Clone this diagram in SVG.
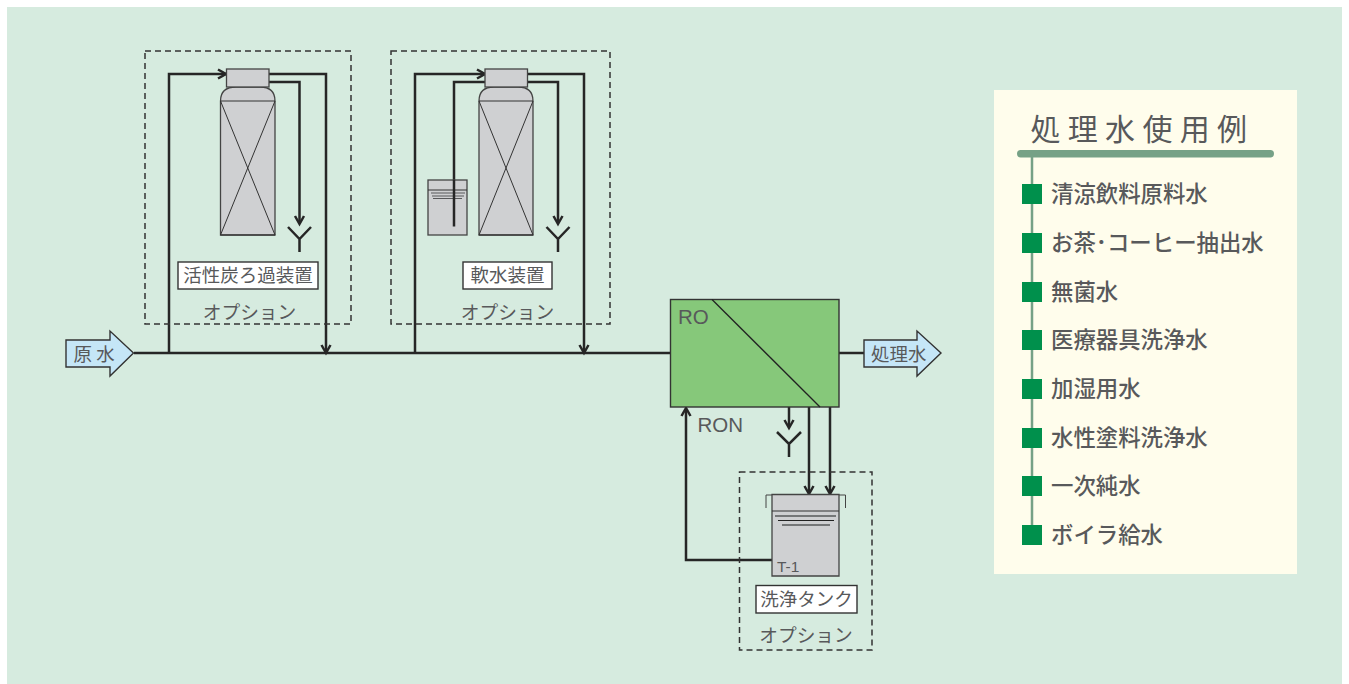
<svg xmlns="http://www.w3.org/2000/svg" width="1349" height="684" viewBox="0 0 1349 684">
<style>
text{font-family:"Noto Sans CJK JP","Noto Sans",sans-serif;fill:#58595b}
.lat{font-family:"Liberation Sans",sans-serif}
.dash{fill:none;stroke:#333;stroke-width:1.5;stroke-dasharray:6 4}
.pipe{fill:none;stroke:#262626;stroke-width:2.5}
.grey{fill:#cfd0d2;stroke:#444;stroke-width:1.3}
.thin{fill:none;stroke:#333;stroke-width:1}
.lbl{fill:#fff;stroke:#333;stroke-width:1.4}
.blue{fill:#c5e6f7;stroke:#333;stroke-width:1.4}
.c{text-anchor:middle}
.sq{fill:#00904c}
.item{font-size:22.4px;fill:#58595b;font-weight:500}
.w{stroke:#58595b;stroke-width:1.2}
.k{stroke:#222;stroke-width:1.3}
.lb{font-size:18.5px}
.op{font-size:18.7px}
</style>
<rect width="1349" height="684" fill="#fff"/>
<rect x="7" y="7" width="1335" height="677" fill="#d6ebdf"/>

<g id="connectors">
<path class="pipe" d="M134 353H670"/>
<path class="pipe" d="M169 353V74H226"/>
<path class="pipe" d="M269 74H326V351"/>
<path class="pipe" d="M269 82H299.5V223"/>
<path class="pipe" d="M415 353V74H485"/>
<path class="pipe" d="M527 74H584V351"/>
<path class="pipe" d="M485 82H454V226.500"/>
<path class="pipe" d="M527 82H558V223"/>
<path class="pipe" d="M839 353H864"/>
<path class="pipe" d="M772 560H686V409"/>
<path class="pipe" d="M789 407V427"/>
<path class="pipe" d="M809 407V492"/>
<path class="pipe" d="M830 407V492"/>
<g class="pipe">
<path d="M218 69.500L226 74L218 78.500"/>
<path d="M477 69.500L485 74L477 78.500"/>
<path d="M321.500 345L326 353L330.500 345"/>
<path d="M579.500 345L584 353L588.500 345"/>
<path d="M295 216L299.500 224L304 216"/>
<path d="M553.500 216L558 224L562.500 216"/>
<path d="M681.500 416L686 408L690.500 416"/>
<path d="M784.500 420L789 428L793.500 420"/>
<path d="M804.500 486L809 494L813.500 486"/>
<path d="M825.500 486L830 494L834.500 486"/>
</g>
</g>

<g id="opt-carbon">
<rect class="dash" x="145" y="51" width="206" height="273"/>
<path class="grey" d="M220.500 235V101Q220.500 87 236 87H260Q275 87 275 101V235Z"/>
<path class="thin" d="M220.500 101H275L220.500 235H275L220.500 101"/>
<rect class="grey" x="226.500" y="69" width="42.500" height="18"/>
<path class="pipe" d="M288 227L299.500 239L311 227M299.500 239V252"/>
<rect class="lbl" x="178" y="262" width="140" height="27"/>
<text class="c lb" x="248" y="282">活性炭ろ過装置</text>
<text class="c op" x="249.500" y="319">オプション</text>
</g>

<g id="opt-softener">
<rect class="dash" x="391" y="51" width="219" height="273"/>
<rect class="grey" x="428" y="180" width="39" height="55"/>
<path class="thin" d="M428 190H467"/>
<path class="w" d="M431 193H465M432 196H464M433 198.500H462"/>
<path class="pipe" d="M454 180V226.500"/>
<path class="grey" d="M479 235V101Q479 87 494 87H518Q533 87 533 101V235Z"/>
<path class="thin" d="M479 101H533L479 235H533L479 101"/>
<rect class="grey" x="485" y="69" width="42.500" height="18"/>
<path class="pipe" d="M546.500 227L558 239L569.500 227M558 239V252"/>
<rect class="lbl" x="463" y="262" width="89" height="27"/>
<text class="c lb" x="507.500" y="282">軟水装置</text>
<text class="c op" x="507.500" y="319">オプション</text>
</g>

<g id="ro">
<rect x="670.500" y="299.500" width="168.500" height="107.500" fill="#86c87a" stroke="#333" stroke-width="1.4"/>
<path class="k" d="M712 299.500L820 407"/>
<text class="lat" x="678" y="324" font-size="20.500">RO</text>
<text class="lat" x="697.500" y="431.500" font-size="20.500">RON</text>
</g>

<g id="drain">
<path class="pipe" d="M777 432L789 444L801 432M789 444V457"/>
</g>

<g id="opt-tank">
<rect class="dash" x="739.500" y="472" width="132.500" height="178"/>
<path class="grey" d="M772 494.500H839V576H772Z"/>
<path class="thin" d="M772 511H839"/>
<path class="thin" d="M766 508V495H772M845.500 508V495H839" style="stroke:#444"/>
<path class="w" d="M775 516H836M782 525H830" style="stroke-width:1.400"/>
<path class="k" d="M778 520.500H834" style="stroke-width:1"/>
<text class="lat" x="777" y="572" font-size="15.500">T-1</text>
<rect class="lbl" x="756" y="585.500" width="101" height="27.500"/>
<text class="c lb" x="806.500" y="606">洗浄タンク</text>
<text class="c op" x="806" y="642">オプション</text>
</g>

<g id="raw-water">
<path class="blue" d="M66 340H110V331L133.500 353L110 376V367H66Z"/>
<text x="73.500" y="360.500" font-size="18.500">原 水</text>
</g>

<g id="treated-water">
<path class="blue" d="M864 340H917V331L941 353L917 376V367H864Z"/>
<text x="871" y="360.500" font-size="18.500">処理水</text>
</g>

<g id="usage-panel">
<rect x="994" y="90" width="303" height="484" fill="#fffdec"/>
<path d="M1032 155V530" stroke="#76a186" stroke-width="2.500"/>
<rect x="1017" y="150" width="257" height="7.500" rx="3.700" fill="#76a186"/>
<text x="1030.500" y="140" font-size="30" letter-spacing="7.300">処理水使用例</text>
<g>
<rect class="sq" x="1022" y="184" width="20" height="20"/>
<rect class="sq" x="1022" y="233" width="20" height="20"/>
<rect class="sq" x="1022" y="282" width="20" height="20"/>
<rect class="sq" x="1022" y="330" width="20" height="20"/>
<rect class="sq" x="1022" y="379" width="20" height="20"/>
<rect class="sq" x="1022" y="428" width="20" height="20"/>
<rect class="sq" x="1022" y="476" width="20" height="20"/>
<rect class="sq" x="1022" y="525" width="20" height="20"/>
</g>
<text class="item" x="1051" y="201.500">清涼飲料原料水</text>
<text class="item" x="1051" y="250.500">お茶･コーヒー抽出水</text>
<text class="item" x="1051" y="299.500">無菌水</text>
<text class="item" x="1051" y="347.500">医療器具洗浄水</text>
<text class="item" x="1051" y="396.500">加湿用水</text>
<text class="item" x="1051" y="445.500">水性塗料洗浄水</text>
<text class="item" x="1051" y="493.500">一次純水</text>
<text class="item" x="1051" y="542.500">ボイラ給水</text>
</g>
</svg>
